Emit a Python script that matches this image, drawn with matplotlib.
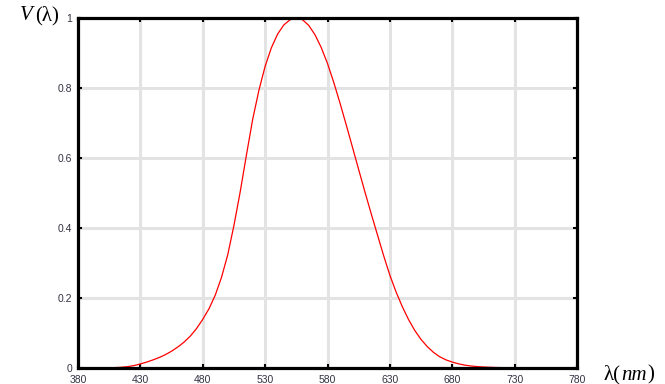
import matplotlib
matplotlib.use("Agg")
import matplotlib.pyplot as plt

wavelength = [380, 385, 390, 395, 400, 405, 410, 415, 420, 425, 430, 435, 440, 445, 450, 455,
              460, 465, 470, 475, 480, 485, 490, 495, 500, 505, 510, 515, 520, 525, 530, 535,
              540, 545, 550, 555, 560, 565, 570, 575, 580, 585, 590, 595, 600, 605, 610, 615,
              620, 625, 630, 635, 640, 645, 650, 655, 660, 665, 670, 675, 680, 685, 690, 695,
              700, 705, 710, 715, 720, 725, 730, 735, 740, 745, 750, 755, 760, 765, 770, 775, 780]
v_lambda = [0.00004, 0.00006, 0.00012, 0.00022, 0.0004, 0.0007, 0.0012, 0.0022, 0.004, 0.007,
            0.0116, 0.0168, 0.023, 0.0298, 0.038, 0.048, 0.060, 0.0739, 0.091, 0.1126,
            0.139, 0.1693, 0.208, 0.2586, 0.323, 0.4073, 0.503, 0.6082, 0.710, 0.7932,
            0.862, 0.9149, 0.954, 0.9803, 0.995, 1.0, 0.995, 0.9786, 0.952, 0.9154,
            0.870, 0.8163, 0.757, 0.6949, 0.631, 0.5668, 0.503, 0.4412, 0.381, 0.321,
            0.265, 0.217, 0.175, 0.1382, 0.107, 0.0816, 0.061, 0.0446, 0.032, 0.0232,
            0.017, 0.0119, 0.0082, 0.0057, 0.0041, 0.0029, 0.0021, 0.0015, 0.00105, 0.00074,
            0.00052, 0.00036, 0.00025, 0.00017, 0.00012, 0.000085, 0.00006, 0.00004, 0.00003,
            0.00002, 0.000015]

x_ticks = [380, 430, 480, 530, 580, 630, 680, 730, 780]
y_ticks = [0, 0.2, 0.4, 0.6, 0.8, 1]
y_tick_labels = ["0", "0.2", "0.4", "0.6", "0.8", "1"]

fig = plt.figure(figsize=(6.65, 3.84), dpi=100)
ax = fig.add_axes([78 / 665, 16 / 384, 499 / 665, 350 / 384])

ax.plot(wavelength, v_lambda, color="red", lw=0.9, zorder=3, clip_on=False)

ax.set_xlim(380, 780)
ax.set_ylim(0, 1)
ax.set_xticks(x_ticks)
ax.set_xticklabels([str(t) for t in x_ticks])
ax.set_yticks(y_ticks)
ax.set_yticklabels(y_tick_labels)

ax.grid(True, color="#e3e3e3", lw=2.2, zorder=0)
ax.set_axisbelow(True)
for s in ax.spines.values():
    s.set_linewidth(2.3)
    s.set_color("black")
    s.set_zorder(4)

ax.tick_params(direction="in", length=3, width=1.5, color="black",
               top=True, right=True, labelsize=7.5, labelcolor="#333344")
ax.tick_params(axis="x", pad=5)
ax.tick_params(axis="y", pad=4)
for lab in ax.get_xticklabels() + ax.get_yticklabels():
    lab.set_fontfamily("Liberation Sans")

renderer = fig.canvas.get_renderer()


def place_pieces(x_px, y_px, pieces, size):
    x = x_px
    for txt, style, gap in pieces:
        t = fig.text(x / 665, 1 - y_px / 384, txt, fontsize=size, family="Liberation Serif",
                     style=style, va="center", ha="left")
        bb = t.get_window_extent(renderer)
        x += bb.width + gap


place_pieces(20, 16, [("V", "italic", 2), ("(λ)", "normal", 0)], 15)
place_pieces(603, 375, [("λ(", "normal", 1), ("nm", "italic", 1), (")", "normal", 0)], 15)

fig.savefig("out.png", dpi=100)
